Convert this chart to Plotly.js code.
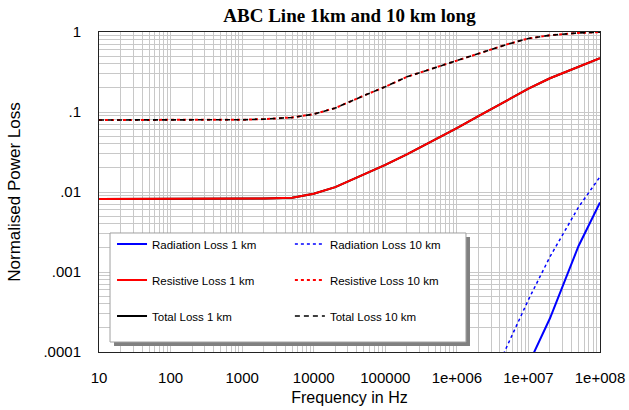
<!DOCTYPE html>
<html>
<head>
<meta charset="utf-8">
<script src="https://cdn.plot.ly/plotly-3.0.1.min.js"></script>
<style>
  html, body { margin: 0; padding: 0; background: #fff; }
  #chart { width: 629px; height: 410px; }
</style>
</head>
<body>
<div id="chart"></div>
<script>
// Frequency points (Hz)
var freq = [10, 20, 50, 100, 200, 500, 1000, 2000, 5000, 1e4, 2e4, 5e4, 1e5, 2e5, 5e5, 1e6, 2e6, 5e6, 1e7, 2e7, 5e7, 1e8];

// Normalised power loss values
var radiation1km  = [null, null, null, null, null, null, null, null, null, null, null, null, null, null, null, 7e-7, 3e-6, 1.8e-5, 7e-5, 2.64e-4, 2.1e-3, 7.4e-3];
var radiation10km = [null, null, null, null, null, null, null, null, null, null, null, null, null, null, null, 4.7e-6, 1.9e-5, 1.17e-4, 4.5e-4, 1.55e-3, 6.45e-3, 0.0155];
var resistive1km  = [0.0082, 0.0082, 0.0082, 0.0082, 0.0082, 0.0082, 0.0082, 0.0083, 0.0085, 0.0095, 0.0115, 0.0164, 0.0218, 0.0296, 0.0451, 0.063, 0.0886, 0.141, 0.196, 0.264, 0.368, 0.47];
var resistive10km = [0.0795, 0.0795, 0.0795, 0.0795, 0.0795, 0.0796, 0.080, 0.0815, 0.0855, 0.094, 0.112, 0.16, 0.207, 0.275, 0.36, 0.44, 0.54, 0.70, 0.83, 0.91, 0.975, 0.995];
var total1km      = [0.0082, 0.0082, 0.0082, 0.0082, 0.0082, 0.0082, 0.0082, 0.0083, 0.0085, 0.0095, 0.0115, 0.0164, 0.0218, 0.0296, 0.0451, 0.063, 0.0886, 0.141, 0.196, 0.264, 0.368, 0.47];
var total10km     = [0.0795, 0.0795, 0.0795, 0.0795, 0.0795, 0.0796, 0.080, 0.0815, 0.0855, 0.094, 0.112, 0.16, 0.207, 0.275, 0.36, 0.44, 0.54, 0.70, 0.83, 0.91, 0.975, 0.995];

var xTickVals = [10, 100, 1000, 10000, 100000, 1e6, 1e7, 1e8];
var xTickText = ['10', '100', '1000', '10000', '100000', '1e+006', '1e+007', '1e+008'];
var yTickVals = [0.0001, 0.001, 0.01, 0.1, 1];
var yTickText = ['.0001', '.001', '.01', '.1', '1'];

function tr(name, y, color, dash, width, legend, rank) {
  return {
    x: freq, y: y, name: name, type: 'scatter', mode: 'lines',
    line: {color: color, dash: dash, width: width},
    legend: legend, legendgroup: name, legendrank: rank,
    hoverinfo: 'x+y+name'
  };
}

var data = [
  tr('Total Loss 1 km', total1km, '#000000', 'solid', 2, 'legend', 3),
  tr('Resistive Loss 10 km', resistive10km, '#ff0000', 'dot', 2, 'legend2', 2),
  tr('Total Loss 10 km', total10km, '#000000', '5px,4px', 1.6, 'legend2', 3),
  tr('Resistive Loss 1 km', resistive1km, '#ff0000', 'solid', 2, 'legend', 2),
  tr('Radiation Loss 10 km', radiation10km, '#0000ff', 'dot', 1.5, 'legend2', 1),
  tr('Radiation Loss 1 km', radiation1km, '#0000ff', 'solid', 2, 'legend', 1)
];

var gridCol = '#c8c8c8';
var legFont = {family: 'Liberation Sans, Arial, sans-serif', size: 11.5, color: '#000'};

var layout = {
  width: 629, height: 410,
  margin: {l: 99, r: 29, t: 32, b: 58, pad: 0},
  paper_bgcolor: '#ffffff', plot_bgcolor: '#ffffff',
  font: {family: 'Liberation Sans, Arial, sans-serif', size: 15, color: '#000'},
  title: {
    text: '<b>ABC Line 1km and 10 km long</b>',
    font: {family: 'Liberation Serif, Times New Roman, serif', size: 19, color: '#000'},
    xref: 'paper', x: 0.5, xanchor: 'center',
    yref: 'container', y: 0.963, yanchor: 'middle'
  },
  xaxis: {
    type: 'log', range: [1, 8],
    tickmode: 'array', tickvals: xTickVals, ticktext: xTickText,
    ticks: '', ticklabelstandoff: 12,
    tickfont: {size: 15, color: '#000'},
    showgrid: true, gridcolor: gridCol, gridwidth: 1,
    minor: {dtick: 'D1', showgrid: true, gridcolor: gridCol, gridwidth: 1, ticks: ''},
    showline: true, linecolor: '#222', linewidth: 1, mirror: true,
    zeroline: false,
    title: {text: 'Frequency in Hz', font: {size: 16, color: '#000'}, standoff: 6}
  },
  yaxis: {
    type: 'log', range: [-4, 0],
    tickmode: 'array', tickvals: yTickVals, ticktext: yTickText,
    ticks: '', ticklabelstandoff: 14,
    tickfont: {size: 15, color: '#000'},
    showgrid: true, gridcolor: gridCol, gridwidth: 1,
    minor: {dtick: 'D1', showgrid: true, gridcolor: gridCol, gridwidth: 1, ticks: ''},
    showline: true, linecolor: '#222', linewidth: 1, mirror: true,
    zeroline: false,
    title: {text: 'Normalised Power Loss', font: {size: 17, color: '#000'}, standoff: 18}
  },
  showlegend: true,
  legend: {
    x: 0.026, xanchor: 'left', y: 0.3828, yanchor: 'top',
    bgcolor: 'rgba(0,0,0,0)', borderwidth: 0, font: legFont,
    tracegroupgap: 17, orientation: 'v', traceorder: 'grouped'
  },
  legend2: {
    x: 0.381, xanchor: 'left', y: 0.3828, yanchor: 'top',
    bgcolor: 'rgba(0,0,0,0)', borderwidth: 0, font: legFont,
    tracegroupgap: 17, orientation: 'v', traceorder: 'grouped'
  },
  shapes: [
    {type: 'rect', xref: 'paper', yref: 'paper', x0: 0.030, x1: 0.7405, y0: 0.01875, y1: 0.3594,
     fillcolor: '#808080', line: {width: 0}, layer: 'above'},
    {type: 'rect', xref: 'paper', yref: 'paper', x0: 0.022, x1: 0.7325, y0: 0.03125, y1: 0.3719,
     fillcolor: '#ffffff', line: {color: '#a0a0a0', width: 1}, layer: 'above'}
  ]
};

Plotly.newPlot('chart', data, layout, {displayModeBar: false, staticPlot: true});
</script>
</body>
</html>
